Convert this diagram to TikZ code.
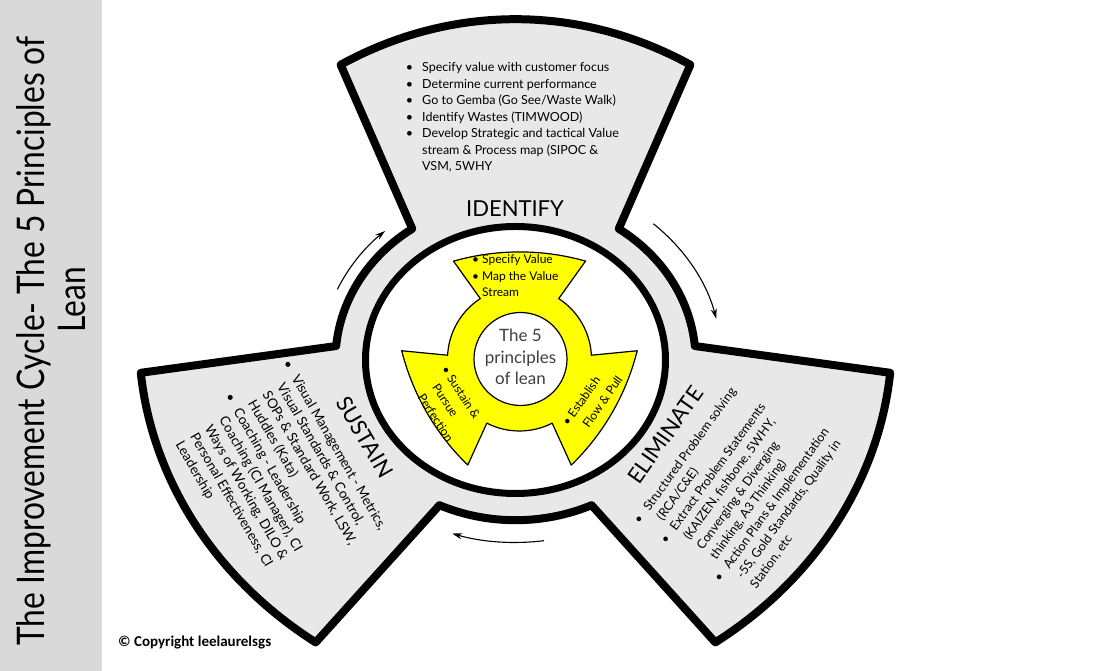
\documentclass[tikz,border=0pt]{standalone}
\usepackage{fontspec}
\setmainfont{Lato}
\newfontfamily\cpfont{Carlito}
\usetikzlibrary{arrows.meta}
\definecolor{bandgray}{HTML}{D9D9D9}
\definecolor{bladegray}{HTML}{E8E8E8}
\definecolor{lemon}{HTML}{FFFF00}
\definecolor{inktext}{HTML}{3F3F3F}
\newcommand\bul{\leavevmode\llap{\textbullet\hspace{9pt}}}
\newcommand\ybul{\leavevmode\llap{\textbullet\hspace{3pt}}}
\begin{document}
\begin{tikzpicture}[x=1pt,y=1pt,
  outline/.style={draw=black, line width=8pt, line join=round, fill=bladegray},
  ringline/.style={draw=black, line width=7pt, fill=white},
  yellowshape/.style={draw=black, line width=1.2pt, line join=round, fill=lemon},
  cyclearrow/.style={line width=1.1pt, -{Stealth[length=10pt, width=6pt]}},
  bladetitle/.style={font=\fontsize{22}{24}\selectfont, inner sep=0pt},
  listtext/.style={inner sep=0pt, anchor=base west},
]
\useasboundingbox (0,0) rectangle (1096,671);
\fill[white] (0,0) rectangle (1096,671);
\fill[bandgray] (0,0) rectangle (102,671);

\coordinate (hub) at (515.5,311);
\coordinate (core) at (519.5,312);

% outer cycle: three blades joined by a ring
\begin{scope}[shift={(hub)}, yscale=0.89]
  \path[outline] (125:180) -- (117.8:375)
      .. controls (99.1:405.1) and (80.9:405.1) .. (62.2:375) -- (55:180)
      arc[start angle=55, end angle=5, radius=180] -- (-2.2:375)
      .. controls (-20.5:387.7) and (-39.5:387.7) .. (-57.8:375) -- (-65:180)
      arc[start angle=-65, end angle=-115, radius=180] -- (-122.2:375)
      .. controls (-140.5:387.7) and (-159.5:387.7) .. (-177.8:375) -- (-185:180)
      arc[start angle=-185, end angle=-235, radius=180] -- cycle;
  \path[ringline] (0,0) circle[radius=150];
  % cycle arrows
  \draw[cyclearrow] (48:206) arc[start angle=48, end angle=13, radius=206];
  \draw[cyclearrow] (156:195) arc[start angle=156, end angle=132, radius=195];
  \draw[cyclearrow] (278:205) arc[start angle=278, end angle=252, radius=205];
\end{scope}

% inner yellow emblem
\begin{scope}[shift={(core)}]
  \path[yellowshape] (123:72) -- (124:118)
      arc[start angle=105.9, end angle=74.1, radius=241.3] -- (56:118) -- (57:72)
      arc[start angle=57, end angle=3, radius=72] -- (4:118)
      arc[start angle=-14.1, end angle=-45.9, radius=241.3] -- (-64:118) -- (-63:72)
      arc[start angle=-63, end angle=-117, radius=72] -- (-116:118)
      arc[start angle=-134.1, end angle=-165.9, radius=241.3] -- (-184:118) -- (-183:72)
      arc[start angle=-183, end angle=-237, radius=72] -- cycle;
  \draw[line width=1.2pt, fill=white] (1,0) circle[radius=46.5];
\end{scope}

\node[align=center, text=inktext, font=\fontsize{17}{21.5}\selectfont, inner sep=0pt]
  (hubtext) at (520.5,314) {The 5\\principles\\of lean};

% side title
\node[rotate=90, anchor=base, inner sep=0pt] (title1) at (44.5,330)
  {\scalebox{0.835}[1]{\fontsize{38}{40}\selectfont The Improvement Cycle- The 5 Principles of}};
\node[rotate=90, anchor=base, inner sep=0pt] (title2) at (85,371)
  {\scalebox{0.835}[1]{\fontsize{38}{40}\selectfont Lean}};

% blade titles
\node[bladetitle] (identify) at (515,462) {IDENTIFY};
\node[bladetitle, rotate=-60] (sustain) at (365,234) {SUSTAIN};
\node[bladetitle, rotate=55] (eliminate) at (665.5,236) {ELIMINATE};

% blade lists
\node[listtext] (idlist) at (422,599) {\parbox[t]{260pt}{\raggedright\fontsize{12.5}{16.5}\selectfont
  \bul Specify value with customer focus\\
  \bul Determine current performance\\
  \bul Go to Gemba (Go See/Waste Walk)\\
  \bul Identify Wastes (TIMWOOD)\\
  \bul Develop Strategic and tactical Value\\
  stream \& Process map (SIPOC \&\\
  VSM, 5WHY}};

\node[listtext, rotate=-60] (sulist) at (291,293) {\parbox[t]{260pt}{\raggedright\fontsize{13.5}{16.7}\selectfont
  \bul Visual Management - Metrics,\\
  Visual Standards \& Control,\\
  SOPs \& Standard Work, LSW,\\
  Huddles (Kata)\\
  \bul Coaching - Leadership\\
  Coaching (CI Manager), CI\\
  Ways of Working, DILO \&\\
  Personal Effectiveness, CI\\
  Leadership}};

\node[listtext, rotate=54] (ellist) at (649.4,159.2) {\parbox[t]{260pt}{\raggedright\fontsize{12.5}{16.5}\selectfont
  \bul Structured Problem solving\\
  (RCA/C\&E)\\
  \bul Extract Problem Statements\\
  (KAIZEN, fishbone, 5WHY,\\
  Converging \& Diverging\\
  thinking, A3 Thinking)\\
  \bul Action Plans \& Implementation\\
  -5S, Gold Standards, Quality in\\
  Station, etc}};

% emblem texts
\node[listtext] (ytop) at (482,407) {\parbox[t]{120pt}{\raggedright\fontsize{12}{16.5}\selectfont
  \ybul Specify Value\\
  \ybul Map the Value\\
  Stream}};
\node[listtext, rotate=-57] (yleft) at (446.5,293) {\parbox[t]{120pt}{\raggedright\fontsize{12}{17.5}\selectfont
  \ybul Sustain \&\\
  Pursue\\
  Perfection}};
\node[listtext, rotate=55] (yright) at (574,252.3) {\parbox[t]{120pt}{\raggedright\fontsize{12}{18}\selectfont
  \ybul Establish\\
  Flow \& Pull}};

% copyright line
\node[listtext] (copy) at (118,24) {\cpfont\bfseries\fontsize{15}{16}\selectfont © Copyright leelaurelsgs};
\end{tikzpicture}
\end{document}
